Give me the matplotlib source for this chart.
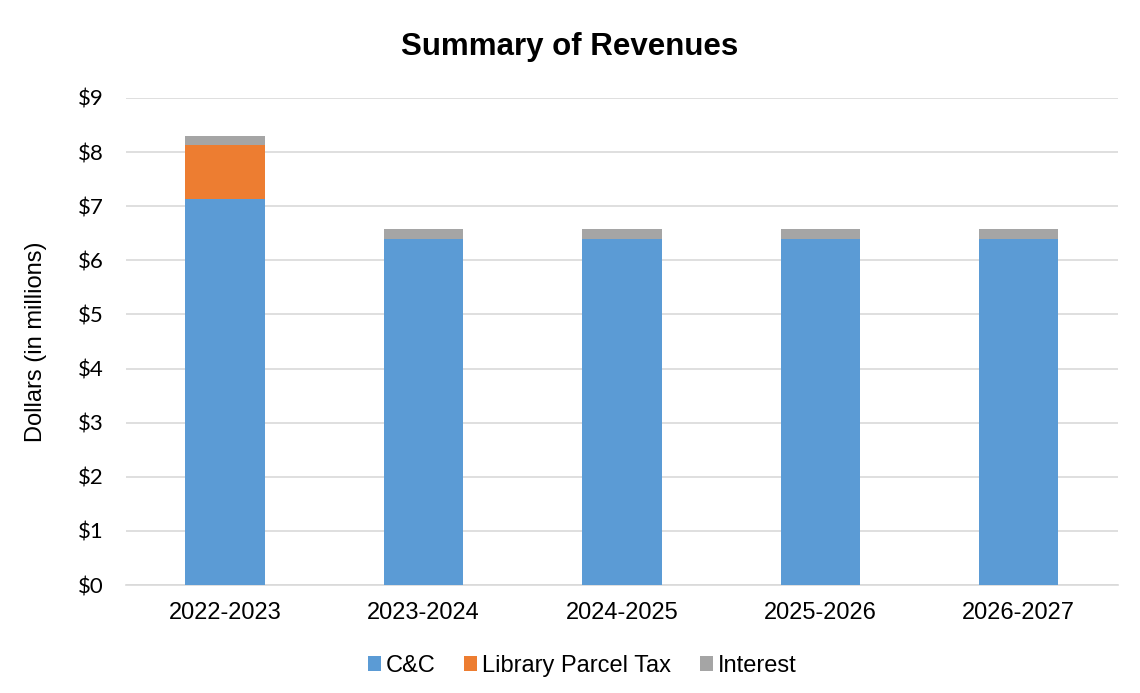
import matplotlib.pyplot as plt
from matplotlib.ticker import FuncFormatter

plt.rcParams['font.family'] = ['Liberation Sans', 'DejaVu Sans']

# Data (millions of dollars)
years = ["2022-2023", "2023-2024", "2024-2025", "2025-2026", "2026-2027"]
cc = [7.13, 6.40, 6.40, 6.40, 6.40]
library_tax = [1.00, 0.0, 0.0, 0.0, 0.0]
interest = [0.17, 0.17, 0.17, 0.17, 0.17]

fig = plt.figure(figsize=(11.4, 6.93), dpi=100)
ax = fig.add_axes([0.1105, 0.1558, 0.8702, 0.7028])

x = range(len(years))
w = 0.4
bottom2 = [a + b for a, b in zip(cc, library_tax)]
ax.bar(x, cc, w, color="#5b9bd5", label="C&C", zorder=3)
ax.bar(x, library_tax, w, bottom=cc, color="#ed7d31", label="Library Parcel Tax", zorder=3)
ax.bar(x, interest, w, bottom=bottom2, color="#a5a5a5", label="Interest", zorder=3)

ax.set_xlim(-0.5, len(years) - 0.5)
ax.set_ylim(0, 9)
ax.set_yticks(range(10))
ax.yaxis.set_major_formatter(FuncFormatter(lambda v, p: f"${v:.0f}"))
ax.set_xticks(list(x))
ax.set_xticklabels(years, fontsize=17)
for lbl in ax.get_yticklabels():
    lbl.set_fontfamily(["Lato", "DejaVu Sans"])
    lbl.set_fontsize(16)
ax.grid(axis="y", color="#d9d9d9", linewidth=1.2, zorder=0)
for s in ["top", "right", "left"]:
    ax.spines[s].set_visible(False)
ax.spines["bottom"].set_color("#d9d9d9")
ax.spines["bottom"].set_linewidth(1.2)
ax.tick_params(axis="both", length=0, colors="black")
ax.tick_params(axis="x", pad=12)
ax.tick_params(axis="y", pad=16)

ax.set_ylabel("Dollars (in millions)", fontsize=17)
ax.yaxis.set_label_coords(-0.0796, 0.5)
fig.text(0.5, 0.932, "Summary of Revenues", ha="center", va="center",
         fontsize=22.5, fontweight="bold")

ax.legend(loc="center", bbox_to_anchor=(0.460, -0.166), ncol=3, frameon=False,
          fontsize=17, handlelength=0.55, handleheight=0.55, handletextpad=0.21,
          columnspacing=1.22)

fig.savefig("out.png", dpi=100)
